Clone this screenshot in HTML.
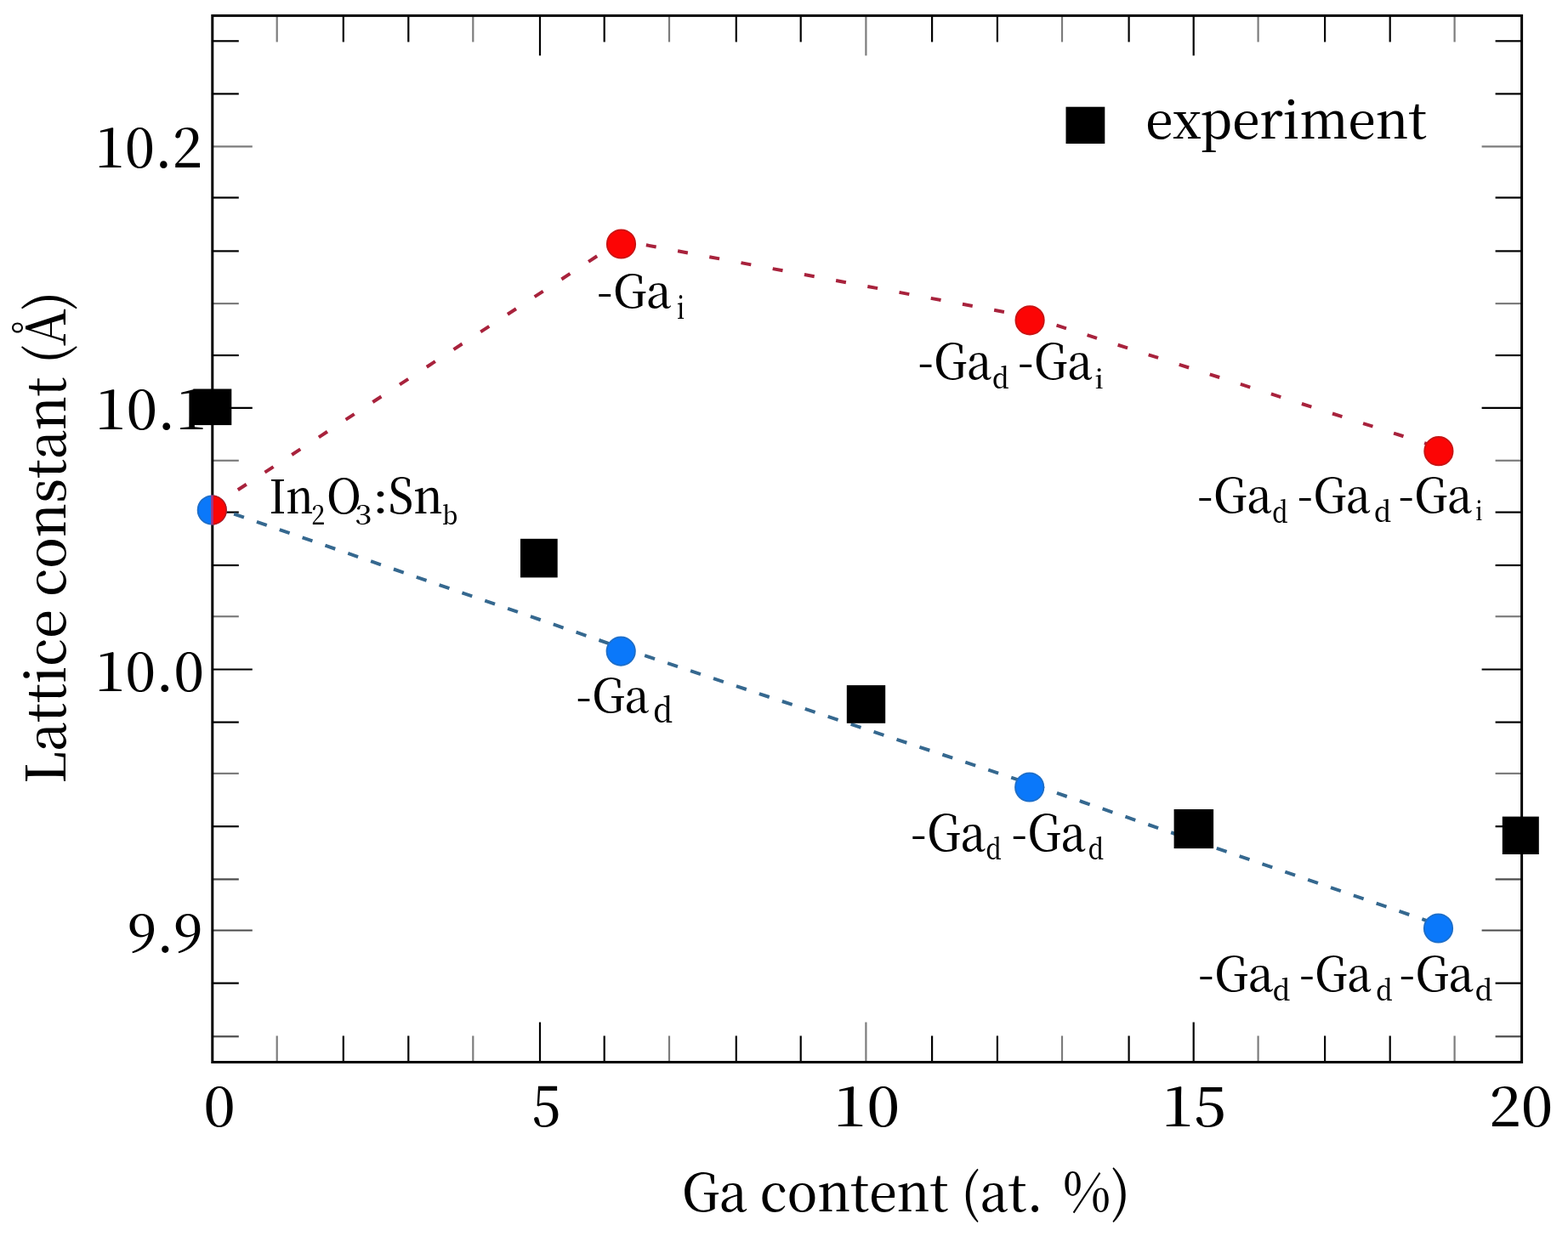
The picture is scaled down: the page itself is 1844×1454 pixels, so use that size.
<!DOCTYPE html>
<html><head><meta charset="utf-8"><title>Lattice constant vs Ga content</title>
<style>html,body{margin:0;padding:0;background:#fff;overflow:hidden}svg{display:block}</style>
</head><body>
<svg width="1844" height="1454" viewBox="0 0 1844 1454">
<rect width="1844" height="1454" fill="#fff"/>
<g font-family="'Noto Serif CJK SC', 'Liberation Serif', serif" font-weight="500" fill="#000">
<text x="111.4" y="197.0" font-size="65.31" textLength="126.8" lengthAdjust="spacingAndGlyphs">10.2</text>
<text x="111.8" y="504.9" font-size="64.90" textLength="131.4" lengthAdjust="spacingAndGlyphs">10.1</text>
<text x="111.4" y="812.6" font-size="63.67" textLength="128.9" lengthAdjust="spacingAndGlyphs">10.0</text>
<text x="150.0" y="1119.6" font-size="62.86" textLength="88.4" lengthAdjust="spacingAndGlyphs">9.9</text>
<text x="239.2" y="1324.8" font-size="64.49" textLength="37.6" lengthAdjust="spacingAndGlyphs">0</text>
<text x="625.4" y="1324.8" font-size="66.94" textLength="33.8" lengthAdjust="spacingAndGlyphs">5</text>
<text x="980.1" y="1324.8" font-size="65.31" textLength="78.2" lengthAdjust="spacingAndGlyphs">10</text>
<text x="1366.1" y="1324.7" font-size="65.34" textLength="75.8" lengthAdjust="spacingAndGlyphs">15</text>
<text x="1751.3" y="1324.7" font-size="64.90" textLength="75.1" lengthAdjust="spacingAndGlyphs">20</text>
<text x="802.0" y="1424.8" font-size="61.20" textLength="424.8" lengthAdjust="spacingAndGlyphs">Ga content (at.</text>
<text x="1249.7" y="1424.8" font-size="62.70" textLength="79.4" lengthAdjust="spacingAndGlyphs">%)</text>
<text x="1347.2" y="163.0" font-size="59.81" textLength="330.9" lengthAdjust="spacingAndGlyphs">experiment</text>
<g transform="translate(77.2,0) rotate(-90)"><text x="-922.1" y="0.0" font-size="63.70" textLength="579.4" lengthAdjust="spacingAndGlyphs">Lattice constant (Å)</text></g>
</g>
<g>
<line x1="325.7" y1="1249.5" x2="325.7" y2="1218.5" stroke="#7c7c7c" stroke-width="2.2"/>
<line x1="325.7" y1="18.4" x2="325.7" y2="49.4" stroke="#7c7c7c" stroke-width="2.2"/>
<line x1="403.8" y1="1249.5" x2="403.8" y2="1218.5" stroke="#000" stroke-width="2.2"/>
<line x1="403.8" y1="18.4" x2="403.8" y2="49.4" stroke="#000" stroke-width="2.2"/>
<line x1="480.3" y1="1249.5" x2="480.3" y2="1218.5" stroke="#000" stroke-width="2.2"/>
<line x1="480.3" y1="18.4" x2="480.3" y2="49.4" stroke="#000" stroke-width="2.2"/>
<line x1="556.3" y1="1249.5" x2="556.3" y2="1218.5" stroke="#7c7c7c" stroke-width="2.2"/>
<line x1="556.3" y1="18.4" x2="556.3" y2="49.4" stroke="#7c7c7c" stroke-width="2.2"/>
<line x1="635.0" y1="1249.5" x2="635.0" y2="1202.5" stroke="#000" stroke-width="2.2"/>
<line x1="635.0" y1="18.4" x2="635.0" y2="65.4" stroke="#000" stroke-width="2.2"/>
<line x1="710.7" y1="1249.5" x2="710.7" y2="1218.5" stroke="#000" stroke-width="2.2"/>
<line x1="710.7" y1="18.4" x2="710.7" y2="49.4" stroke="#000" stroke-width="2.2"/>
<line x1="787.0" y1="1249.5" x2="787.0" y2="1218.5" stroke="#7c7c7c" stroke-width="2.2"/>
<line x1="787.0" y1="18.4" x2="787.0" y2="49.4" stroke="#7c7c7c" stroke-width="2.2"/>
<line x1="865.8" y1="1249.5" x2="865.8" y2="1218.5" stroke="#000" stroke-width="2.2"/>
<line x1="865.8" y1="18.4" x2="865.8" y2="49.4" stroke="#000" stroke-width="2.2"/>
<line x1="941.7" y1="1249.5" x2="941.7" y2="1218.5" stroke="#000" stroke-width="2.2"/>
<line x1="941.7" y1="18.4" x2="941.7" y2="49.4" stroke="#000" stroke-width="2.2"/>
<line x1="1018.4" y1="1249.5" x2="1018.4" y2="1202.5" stroke="#7c7c7c" stroke-width="2.2"/>
<line x1="1018.4" y1="18.4" x2="1018.4" y2="65.4" stroke="#7c7c7c" stroke-width="2.2"/>
<line x1="1096.1" y1="1249.5" x2="1096.1" y2="1218.5" stroke="#000" stroke-width="2.2"/>
<line x1="1096.1" y1="18.4" x2="1096.1" y2="49.4" stroke="#000" stroke-width="2.2"/>
<line x1="1172.9" y1="1249.5" x2="1172.9" y2="1218.5" stroke="#000" stroke-width="2.2"/>
<line x1="1172.9" y1="18.4" x2="1172.9" y2="49.4" stroke="#000" stroke-width="2.2"/>
<line x1="1249.0" y1="1249.5" x2="1249.0" y2="1218.5" stroke="#7c7c7c" stroke-width="2.2"/>
<line x1="1249.0" y1="18.4" x2="1249.0" y2="49.4" stroke="#7c7c7c" stroke-width="2.2"/>
<line x1="1327.6" y1="1249.5" x2="1327.6" y2="1218.5" stroke="#000" stroke-width="2.2"/>
<line x1="1327.6" y1="18.4" x2="1327.6" y2="49.4" stroke="#000" stroke-width="2.2"/>
<line x1="1403.7" y1="1249.5" x2="1403.7" y2="1202.5" stroke="#000" stroke-width="2.2"/>
<line x1="1403.7" y1="18.4" x2="1403.7" y2="65.4" stroke="#000" stroke-width="2.2"/>
<line x1="1479.6" y1="1249.5" x2="1479.6" y2="1218.5" stroke="#7c7c7c" stroke-width="2.2"/>
<line x1="1479.6" y1="18.4" x2="1479.6" y2="49.4" stroke="#7c7c7c" stroke-width="2.2"/>
<line x1="1558.1" y1="1249.5" x2="1558.1" y2="1218.5" stroke="#000" stroke-width="2.2"/>
<line x1="1558.1" y1="18.4" x2="1558.1" y2="49.4" stroke="#000" stroke-width="2.2"/>
<line x1="1634.7" y1="1249.5" x2="1634.7" y2="1218.5" stroke="#000" stroke-width="2.2"/>
<line x1="1634.7" y1="18.4" x2="1634.7" y2="49.4" stroke="#000" stroke-width="2.2"/>
<line x1="1710.6" y1="1249.5" x2="1710.6" y2="1218.5" stroke="#7c7c7c" stroke-width="2.2"/>
<line x1="1710.6" y1="18.4" x2="1710.6" y2="49.4" stroke="#7c7c7c" stroke-width="2.2"/>
<line x1="249.8" y1="48.3" x2="280.8" y2="48.3" stroke="#000" stroke-width="2.2"/>
<line x1="1789.6" y1="48.3" x2="1758.6" y2="48.3" stroke="#000" stroke-width="2.2"/>
<line x1="249.8" y1="110.4" x2="280.8" y2="110.4" stroke="#000" stroke-width="2.2"/>
<line x1="1789.6" y1="110.4" x2="1758.6" y2="110.4" stroke="#000" stroke-width="2.2"/>
<line x1="249.8" y1="172.3" x2="296.8" y2="172.3" stroke="#7c7c7c" stroke-width="2.2"/>
<line x1="1789.6" y1="172.3" x2="1742.6" y2="172.3" stroke="#7c7c7c" stroke-width="2.2"/>
<line x1="249.8" y1="232.5" x2="280.8" y2="232.5" stroke="#000" stroke-width="2.2"/>
<line x1="1789.6" y1="232.5" x2="1758.6" y2="232.5" stroke="#000" stroke-width="2.2"/>
<line x1="249.8" y1="295.4" x2="280.8" y2="295.4" stroke="#000" stroke-width="2.2"/>
<line x1="1789.6" y1="295.4" x2="1758.6" y2="295.4" stroke="#000" stroke-width="2.2"/>
<line x1="249.8" y1="357.1" x2="280.8" y2="357.1" stroke="#7c7c7c" stroke-width="2.2"/>
<line x1="1789.6" y1="357.1" x2="1758.6" y2="357.1" stroke="#7c7c7c" stroke-width="2.2"/>
<line x1="249.8" y1="418.0" x2="280.8" y2="418.0" stroke="#000" stroke-width="2.2"/>
<line x1="1789.6" y1="418.0" x2="1758.6" y2="418.0" stroke="#000" stroke-width="2.2"/>
<line x1="249.8" y1="479.9" x2="296.8" y2="479.9" stroke="#000" stroke-width="2.2"/>
<line x1="1789.6" y1="479.9" x2="1742.6" y2="479.9" stroke="#000" stroke-width="2.2"/>
<line x1="249.8" y1="541.8" x2="280.8" y2="541.8" stroke="#7c7c7c" stroke-width="2.2"/>
<line x1="1789.6" y1="541.8" x2="1758.6" y2="541.8" stroke="#7c7c7c" stroke-width="2.2"/>
<line x1="249.8" y1="602.6" x2="280.8" y2="602.6" stroke="#000" stroke-width="2.2"/>
<line x1="1789.6" y1="602.6" x2="1758.6" y2="602.6" stroke="#000" stroke-width="2.2"/>
<line x1="249.8" y1="665.0" x2="280.8" y2="665.0" stroke="#000" stroke-width="2.2"/>
<line x1="1789.6" y1="665.0" x2="1758.6" y2="665.0" stroke="#000" stroke-width="2.2"/>
<line x1="249.8" y1="725.2" x2="280.8" y2="725.2" stroke="#7c7c7c" stroke-width="2.2"/>
<line x1="1789.6" y1="725.2" x2="1758.6" y2="725.2" stroke="#7c7c7c" stroke-width="2.2"/>
<line x1="249.8" y1="787.5" x2="296.8" y2="787.5" stroke="#000" stroke-width="2.2"/>
<line x1="1789.6" y1="787.5" x2="1742.6" y2="787.5" stroke="#000" stroke-width="2.2"/>
<line x1="249.8" y1="849.6" x2="280.8" y2="849.6" stroke="#000" stroke-width="2.2"/>
<line x1="1789.6" y1="849.6" x2="1758.6" y2="849.6" stroke="#000" stroke-width="2.2"/>
<line x1="249.8" y1="909.9" x2="280.8" y2="909.9" stroke="#7c7c7c" stroke-width="2.2"/>
<line x1="1789.6" y1="909.9" x2="1758.6" y2="909.9" stroke="#7c7c7c" stroke-width="2.2"/>
<line x1="249.8" y1="972.2" x2="280.8" y2="972.2" stroke="#000" stroke-width="2.2"/>
<line x1="1789.6" y1="972.2" x2="1758.6" y2="972.2" stroke="#000" stroke-width="2.2"/>
<line x1="249.8" y1="1034.4" x2="280.8" y2="1034.4" stroke="#4a4a4a" stroke-width="2.2"/>
<line x1="1789.6" y1="1034.4" x2="1758.6" y2="1034.4" stroke="#4a4a4a" stroke-width="2.2"/>
<line x1="249.8" y1="1094.5" x2="296.8" y2="1094.5" stroke="#4a4a4a" stroke-width="2.2"/>
<line x1="1789.6" y1="1094.5" x2="1742.6" y2="1094.5" stroke="#4a4a4a" stroke-width="2.2"/>
<line x1="249.8" y1="1156.6" x2="280.8" y2="1156.6" stroke="#000" stroke-width="2.2"/>
<line x1="1789.6" y1="1156.6" x2="1758.6" y2="1156.6" stroke="#000" stroke-width="2.2"/>
<line x1="249.8" y1="1219.3" x2="280.8" y2="1219.3" stroke="#4a4a4a" stroke-width="2.2"/>
<line x1="1789.6" y1="1219.3" x2="1758.6" y2="1219.3" stroke="#4a4a4a" stroke-width="2.2"/>
</g>
<rect x="249.8" y="18.4" width="1539.8" height="1231.1" fill="none" stroke="#000" stroke-width="3"/>
<polyline points="249.8,595.8 730.5,282.8 1211.1,372.6 1691.9,526.5" fill="none" stroke="#a8223c" stroke-width="4.0" stroke-dasharray="12 25.85" stroke-dashoffset="2.1"/>
<polyline points="249.8,595.8 730.2,761.9 1210.7,921.8 1691.5,1087.8" fill="none" stroke="#35688f" stroke-width="4.0" stroke-dasharray="12.5 15.89" stroke-dashoffset="1.6"/>
<circle cx="249.3" cy="600.0" r="16.7" fill="#0a78fa" stroke="#1e6ec8" stroke-width="1.8"/>
<clipPath id="rh"><rect x="250.5" y="570" width="40" height="60"/></clipPath>
<g clip-path="url(#rh)"><circle cx="249.3" cy="600.0" r="16.7" fill="#fc0505" stroke="#c81414" stroke-width="1.8"/></g>
<clipPath id="mid"><rect x="248.3" y="570" width="2.4" height="60"/></clipPath>
<g clip-path="url(#mid)"><circle cx="249.3" cy="600" r="17.599999999999998" fill="#b0307a"/></g>
<circle cx="730.5" cy="287.0" r="16.7" fill="#fc0505" stroke="#c81414" stroke-width="1.8"/>
<circle cx="1211.1" cy="376.8" r="16.7" fill="#fc0505" stroke="#c81414" stroke-width="1.8"/>
<circle cx="1691.9" cy="530.7" r="16.7" fill="#fc0505" stroke="#c81414" stroke-width="1.8"/>
<circle cx="730.2" cy="766.1" r="16.7" fill="#0a78fa" stroke="#1e6ec8" stroke-width="1.8"/>
<circle cx="1210.7" cy="926.0" r="16.7" fill="#0a78fa" stroke="#1e6ec8" stroke-width="1.8"/>
<circle cx="1691.5" cy="1092.0" r="16.7" fill="#0a78fa" stroke="#1e6ec8" stroke-width="1.8"/>
<rect x="227.3" y="457.5" width="45.0" height="42.6" fill="#000"/>
<rect x="612.0" y="633.8" width="43.7" height="45.6" fill="#000"/>
<rect x="995.8" y="806.1" width="45.4" height="44.7" fill="#000"/>
<rect x="1380.6" y="952.0" width="46.5" height="46.1" fill="#000"/>
<rect x="1766.8" y="960.6" width="43.0" height="44.4" fill="#000"/>
<rect x="1253.5" y="125.7" width="45.8" height="43.3" fill="#000"/>
<g font-family="'Noto Serif CJK SC', 'Liberation Serif', serif" font-weight="500" fill="#000">
<text x="316.4" y="603.7" font-size="54.66" textLength="52.4" lengthAdjust="spacingAndGlyphs">In</text>
<text x="366.2" y="617.1" font-size="32.92" textLength="16.0" lengthAdjust="spacingAndGlyphs">2</text>
<text x="384.0" y="603.6" font-size="56.34" textLength="40.9" lengthAdjust="spacingAndGlyphs">O</text>
<text x="417.2" y="616.6" font-size="32.24" textLength="20.1" lengthAdjust="spacingAndGlyphs">3</text>
<text x="437.9" y="603.0" font-size="49.25" textLength="19.0" lengthAdjust="spacingAndGlyphs">:</text>
<text x="456.4" y="603.5" font-size="56.73" textLength="64.5" lengthAdjust="spacingAndGlyphs">Sn</text>
<text x="519.9" y="617.4" font-size="29.27" textLength="18.3" lengthAdjust="spacingAndGlyphs">b</text>
<text x="702.0" y="361.5" font-size="53.47" textLength="87.7" lengthAdjust="spacingAndGlyphs">-Ga</text>
<text x="796.1" y="375.0" font-size="37.29" textLength="9.2" lengthAdjust="spacingAndGlyphs">i</text>
<text x="1079.4" y="446.0" font-size="57.33" textLength="86.8" lengthAdjust="spacingAndGlyphs">-Ga</text>
<text x="1166.9" y="456.5" font-size="32.56" textLength="19.7" lengthAdjust="spacingAndGlyphs">d</text>
<text x="1197.1" y="446.0" font-size="57.33" textLength="87.6" lengthAdjust="spacingAndGlyphs">-Ga</text>
<text x="1287.5" y="456.9" font-size="30.97" textLength="10.4" lengthAdjust="spacingAndGlyphs">i</text>
<text x="1408.0" y="602.5" font-size="56.27" textLength="87.8" lengthAdjust="spacingAndGlyphs">-Ga</text>
<text x="1496.3" y="614.6" font-size="33.78" textLength="18.4" lengthAdjust="spacingAndGlyphs">d</text>
<text x="1525.7" y="602.5" font-size="56.27" textLength="86.3" lengthAdjust="spacingAndGlyphs">-Ga</text>
<text x="1616.0" y="614.0" font-size="33.05" textLength="20.2" lengthAdjust="spacingAndGlyphs">d</text>
<text x="1644.4" y="602.5" font-size="56.27" textLength="86.9" lengthAdjust="spacingAndGlyphs">-Ga</text>
<text x="1735.3" y="612.4" font-size="30.84" textLength="8.3" lengthAdjust="spacingAndGlyphs">i</text>
<text x="677.6" y="837.5" font-size="54.00" textLength="86.0" lengthAdjust="spacingAndGlyphs">-Ga</text>
<text x="768.2" y="850.3" font-size="39.02" textLength="23.0" lengthAdjust="spacingAndGlyphs">d</text>
<text x="1071.1" y="1001.0" font-size="58.13" textLength="88.0" lengthAdjust="spacingAndGlyphs">-Ga</text>
<text x="1159.4" y="1010.9" font-size="33.41" textLength="18.3" lengthAdjust="spacingAndGlyphs">d</text>
<text x="1189.6" y="1001.0" font-size="58.13" textLength="87.4" lengthAdjust="spacingAndGlyphs">-Ga</text>
<text x="1279.7" y="1010.9" font-size="33.41" textLength="18.4" lengthAdjust="spacingAndGlyphs">d</text>
<text x="1409.0" y="1166.0" font-size="56.53" textLength="88.6" lengthAdjust="spacingAndGlyphs">-Ga</text>
<text x="1496.7" y="1176.7" font-size="33.05" textLength="20.7" lengthAdjust="spacingAndGlyphs">d</text>
<text x="1527.9" y="1166.0" font-size="56.53" textLength="85.0" lengthAdjust="spacingAndGlyphs">-Ga</text>
<text x="1618.2" y="1176.7" font-size="33.05" textLength="19.5" lengthAdjust="spacingAndGlyphs">d</text>
<text x="1645.4" y="1166.0" font-size="56.53" textLength="87.9" lengthAdjust="spacingAndGlyphs">-Ga</text>
<text x="1734.7" y="1176.7" font-size="33.05" textLength="20.7" lengthAdjust="spacingAndGlyphs">d</text>
</g>
</svg>
</body></html>
